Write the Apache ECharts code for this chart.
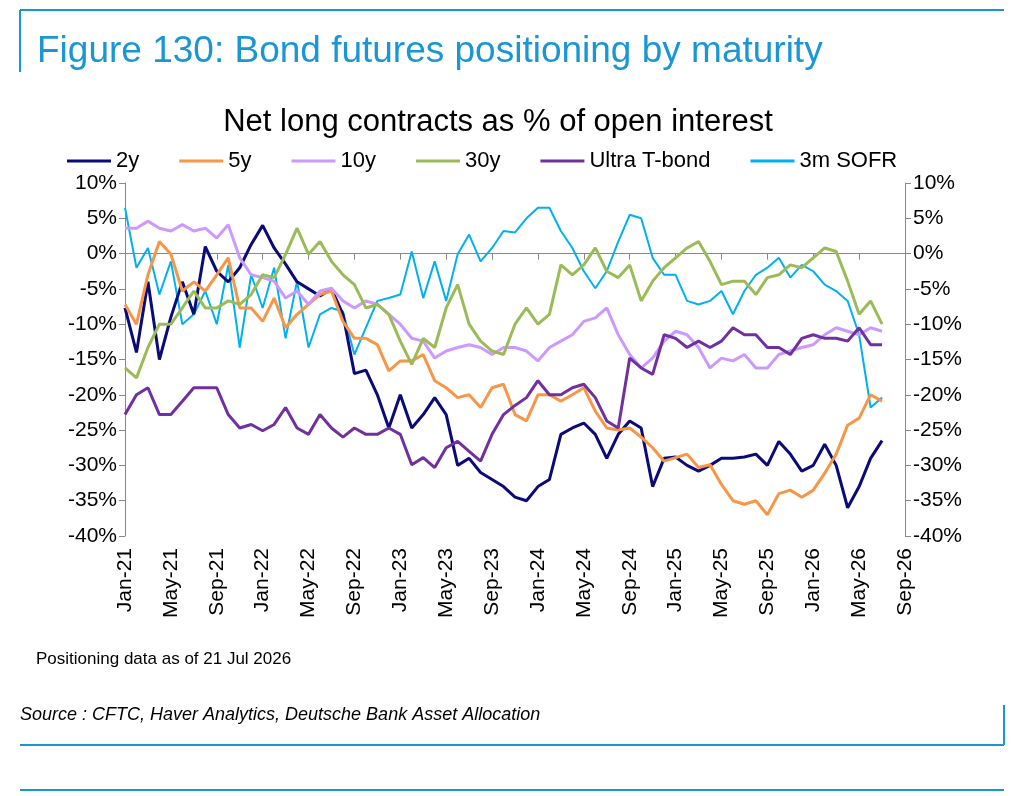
<!DOCTYPE html>
<html><head><meta charset="utf-8">
<script src="https://cdn.jsdelivr.net/npm/echarts@6/dist/echarts.min.js"></script>
<style>body{margin:0;background:#fff}#c{width:1024px;height:796px}</style>
</head><body><div id="c"></div>
<script>
const mon=['Jan','Feb','Mar','Apr','May','Jun','Jul','Aug','Sep','Oct','Nov','Dec'];
const categories=[];for(let y=21;y<=26;y++)for(let m=0;m<12;m++){if(y===26&&m>8)break;categories.push(mon[m]+'-'+y);}
const s2y=[-7.7,-14,-4,-15,-9,-4,-8.6,1,-2.5,-4,-2,1.3,4,0.8,-1.5,-4,-5,-6,-5,-8.6,-17,-16.5,-20,-24.7,-20,-24.7,-22.8,-20.4,-22.8,-30,-29,-31,-32,-33,-34.5,-35,-33,-32,-25.6,-24.7,-24,-25.6,-29,-25.6,-23.7,-24.7,-33,-29,-28.8,-30,-30.8,-30,-29,-29,-28.8,-28.4,-30,-26.6,-28.4,-30.8,-30,-27,-30,-36,-33,-29,-26.5];
const s5y=[-7.2,-10,-3,1.7,-0.1,-5.3,-4,-5.3,-3,-0.6,-7.7,-7.7,-9.6,-6.3,-10.5,-8.6,-7.2,-5.8,-5.3,-9.6,-12,-12,-12.9,-16.6,-15.2,-15.2,-14.3,-18,-19,-20.4,-20,-21.8,-19,-18.5,-22.8,-23.7,-20,-20,-20.9,-20,-19,-22.3,-24.7,-25,-24.7,-26,-27.5,-29.4,-28.9,-28.4,-30.3,-29.9,-32.7,-35,-35.5,-35,-37,-34,-33.5,-34.5,-33.5,-31.1,-28.4,-24.3,-23.3,-20,-20.9];
const s10y=[3.6,3.6,4.6,3.6,3.2,4.1,3.2,3.6,2.2,4.1,-0.6,-3,-3.4,-3.9,-6.3,-5.3,-7.2,-5.3,-4.9,-6.7,-7.7,-6.7,-7.2,-8.6,-10,-12,-12.4,-14.8,-13.8,-13.3,-12.9,-13.3,-14.3,-13.3,-13.3,-13.8,-15.2,-13.3,-12.4,-11.5,-9.6,-9.1,-7.7,-11.5,-14.3,-16.2,-14.8,-12.4,-11,-11.5,-13.3,-16.2,-14.8,-15.2,-14.3,-16.2,-16.2,-14.3,-13.8,-13.3,-12.9,-11.5,-10.5,-11,-11.5,-10.5,-11];
const s30y=[-16.2,-17.6,-13.3,-10,-10,-7.7,-5.3,-7.7,-7.7,-6.7,-7.2,-5.8,-3,-3.4,-0.1,3.6,-0.1,1.7,-1.1,-3,-4.4,-7.7,-7.2,-8.6,-12.4,-15.7,-12,-13.3,-7.7,-4.4,-10,-12.4,-13.8,-14.3,-10,-7.7,-10,-8.6,-1.6,-3,-1.6,0.8,-2.5,-3.4,-1.6,-6.7,-3.9,-2,-0.6,0.8,1.7,-1.1,-4.4,-3.9,-3.9,-5.8,-3.4,-3,-1.6,-2,-0.6,0.8,0.3,-3.9,-8.6,-6.7,-10];
const sUltra=[-22.8,-20,-19,-22.8,-22.8,-20.9,-19,-19,-19,-22.8,-24.7,-24.2,-25.1,-24.2,-21.8,-24.7,-25.6,-22.8,-24.7,-26,-24.7,-25.6,-25.6,-24.7,-25.6,-29.9,-28.9,-30.3,-27.5,-26.6,-28,-29.4,-25.6,-22.8,-21.5,-20.4,-18,-20,-20,-19,-18.5,-20.4,-23.7,-24.7,-14.8,-16.2,-17.1,-11.5,-12,-13.3,-12.4,-13.3,-12.4,-10.5,-11.5,-11.5,-13.3,-13.3,-14.3,-12,-11.5,-12,-12,-12.4,-10.5,-12.9,-12.9];
const sSofr=[6.5,-2,0.8,-5.8,-1.1,-10,-8.6,-5.3,-10,-1.6,-13.3,-3,-7.7,-2,-12,-3.9,-13.3,-8.6,-7.7,-8.2,-14.3,-10.5,-6.7,-6.3,-5.8,0.3,-6.3,-1.1,-6.7,-0.1,2.7,-1.1,0.8,3.2,3,5,6.5,6.5,3.2,0.8,-2.5,-4.9,-2.5,1.7,5.5,5,-0.6,-3,-3,-6.7,-7.2,-6.7,-5.3,-8.6,-5.3,-3,-2,-0.6,-3.4,-1.6,-2.5,-4.4,-5.3,-6.7,-11.5,-21.8,-20.4];
const names=['2y','5y','10y','30y','Ultra T-bond','3m SOFR'];
const colors=['#0a0a78','#f79646','#cc99ff','#9bbb59','#7030a0','#00b0f0'];
const data=[s2y,s5y,s10y,s30y,sUltra,sSofr];
const chart=echarts.init(document.getElementById('c'));
const axisCommon={type:'value',min:-40,max:10,interval:5,splitLine:{show:false},axisLine:{show:true,lineStyle:{color:'#888'}},axisTick:{show:true,length:6,lineStyle:{color:'#888'}},axisLabel:{formatter:'{value}%',fontSize:21,color:'#000',fontFamily:'Liberation Sans'}};
chart.setOption({
 animation:false,
 title:[{text:'Figure 130: Bond futures positioning by maturity',left:32,top:28,textStyle:{color:'#1a96d4',fontSize:37,fontWeight:'normal',fontFamily:'Liberation Sans'}},
  {text:'Net long contracts as % of open interest',left:493,textAlign:'center',top:102,textStyle:{color:'#000',fontSize:31,fontWeight:'normal',fontFamily:'Liberation Sans'}}],
 legend:{top:145,left:62,itemWidth:44,itemHeight:3,itemGap:40,icon:'rect',textStyle:{fontSize:22,color:'#000',fontFamily:'Liberation Sans'},data:names},
 grid:{left:125,right:119,top:183,bottom:260,outerBoundsMode:'none',containLabel:false},
 xAxis:[{type:'category',data:categories,boundaryGap:false,axisLine:{onZero:true,lineStyle:{color:'#888'}},axisTick:{interval:3,length:6,lineStyle:{color:'#888'}},axisLabel:{show:false}},
  {type:'category',data:categories,boundaryGap:false,position:'bottom',axisLine:{show:false,onZero:false},axisTick:{show:false},
  axisLabel:{interval:3,rotate:90,fontSize:21,color:'#000',fontFamily:'Liberation Sans',margin:12}}],
 yAxis:[Object.assign({position:'left'},axisCommon),Object.assign({position:'right'},axisCommon)],
 series:data.map((d,i)=>({name:names[i],type:'line',data:d,showSymbol:false,color:colors[i],lineStyle:{width:i===5?2:3,color:colors[i]},z:i===5?1:2})),
 graphic:[
  {type:'line',shape:{x1:20,y1:10,x2:1004,y2:10},style:{stroke:'#1a96d4',lineWidth:2}},
  {type:'line',shape:{x1:20,y1:10,x2:20,y2:72},style:{stroke:'#1a96d4',lineWidth:2}},
  {type:'line',shape:{x1:20,y1:745,x2:1004,y2:745},style:{stroke:'#1a96d4',lineWidth:2}},
  {type:'line',shape:{x1:1004,y1:705,x2:1004,y2:745},style:{stroke:'#1a96d4',lineWidth:2}},
  {type:'line',shape:{x1:20,y1:790,x2:1004,y2:790},style:{stroke:'#1a96d4',lineWidth:2}},
  {type:'text',left:36,top:651,style:{text:'Positioning data as of 21 Jul 2026',fontSize:17,fill:'#000',fontFamily:'Liberation Sans'}},
  {type:'text',left:20,top:706,style:{text:'Source : CFTC, Haver Analytics, Deutsche Bank Asset Allocation',fontSize:18,fontStyle:'italic',fill:'#000',fontFamily:'Liberation Sans'}}
 ]
});
</script></body></html>
